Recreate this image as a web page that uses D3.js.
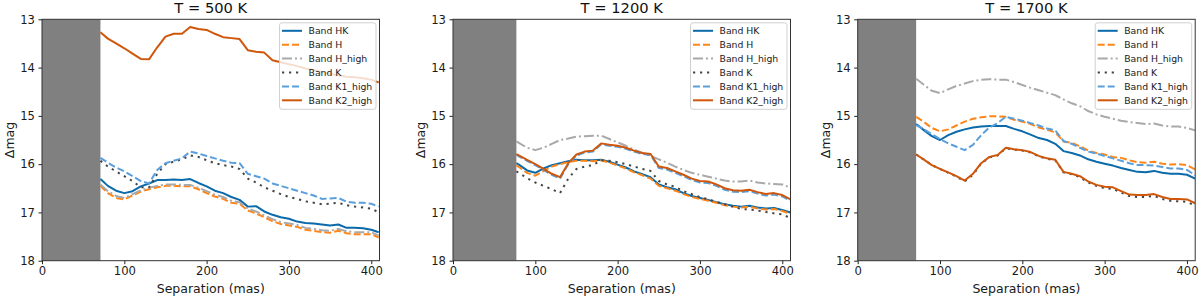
<!DOCTYPE html>
<html>
<head>
<meta charset="utf-8">
<script src="https://cdn.jsdelivr.net/npm/d3@7"></script>
<style>
  body { margin: 0; background: #fff; }
  svg text { font-family: "DejaVu Sans", sans-serif; }
</style>
</head>
<body>
<div id="chart"></div>
<script>
var titles = ["T = 500 K", "T = 1200 K", "T = 1700 K"]
var maskEdge = [71, 77, 71]
var xTicks = [0, 100, 200, 300, 400]
var yTicks = [13, 14, 15, 16, 17, 18]
var bandNames = ["Band HK", "Band H", "Band H_high", "Band K", "Band K1_high", "Band K2_high"]

var sep500 = [71, 80, 90, 100, 110, 120, 130, 140, 150, 160, 170, 180, 190, 200, 210, 220, 230, 240, 250, 260, 270, 280, 290, 300, 310, 320, 330, 340, 350, 360, 370, 380, 390, 400, 409]
var hk500 = [16.31, 16.45, 16.55, 16.6, 16.56, 16.46, 16.4, 16.33, 16.33, 16.32, 16.33, 16.31, 16.39, 16.46, 16.55, 16.6, 16.68, 16.74, 16.88, 16.87, 16.98, 17.05, 17.1, 17.13, 17.19, 17.22, 17.23, 17.25, 17.27, 17.25, 17.32, 17.32, 17.33, 17.36, 17.41]
var h500 = [16.45, 16.6, 16.7, 16.73, 16.65, 16.57, 16.52, 16.48, 16.45, 16.45, 16.46, 16.46, 16.52, 16.6, 16.67, 16.72, 16.8, 16.82, 16.96, 17.02, 17.1, 17.18, 17.24, 17.27, 17.3, 17.36, 17.38, 17.41, 17.42, 17.38, 17.43, 17.45, 17.45, 17.45, 17.52]
var hHigh500 = [16.42, 16.56, 16.66, 16.7, 16.62, 16.54, 16.49, 16.45, 16.42, 16.42, 16.43, 16.43, 16.49, 16.56, 16.63, 16.68, 16.76, 16.79, 16.92, 16.98, 17.06, 17.14, 17.2, 17.23, 17.26, 17.32, 17.34, 17.37, 17.38, 17.34, 17.39, 17.41, 17.41, 17.41, 17.48]
var k500 = [15.93, 16.05, 16.15, 16.25, 16.35, 16.48, 16.48, 16.2, 16.0, 15.95, 15.9, 15.82, 15.85, 15.92, 15.98, 16.02, 16.05, 16.1, 16.3, 16.38, 16.48, 16.55, 16.62, 16.68, 16.72, 16.77, 16.8, 16.83, 16.82, 16.8, 16.85, 16.88, 16.9, 16.92, 17.0]
var k1High500 = [15.87, 15.97, 16.07, 16.15, 16.25, 16.35, 16.4, 16.12, 15.98, 15.93, 15.88, 15.74, 15.78, 15.83, 15.88, 15.93, 15.97, 15.98, 16.2, 16.25, 16.3, 16.4, 16.45, 16.5, 16.55, 16.6, 16.65, 16.72, 16.71, 16.7, 16.78, 16.8, 16.8, 16.82, 16.88]
var k2High500 = [13.27, 13.4, 13.5, 13.6, 13.71, 13.82, 13.83, 13.58, 13.36, 13.3, 13.3, 13.16, 13.2, 13.22, 13.3, 13.37, 13.39, 13.41, 13.64, 13.67, 13.69, 13.85, 13.89, 13.93, 13.97, 14.02, 14.05, 14.09, 14.13, 14.16, 14.19, 14.2, 14.22, 14.25, 14.31]

var sep1200 = [77, 80, 90, 100, 110, 120, 130, 140, 150, 160, 170, 180, 190, 200, 210, 220, 230, 240, 250, 260, 270, 280, 290, 300, 310, 320, 330, 340, 350, 360, 370, 380, 390, 400, 410]
var hk1200 = [15.98, 16.01, 16.13, 16.18, 16.09, 16.02, 15.98, 15.94, 15.91, 15.92, 15.92, 15.91, 15.95, 16.01, 16.07, 16.15, 16.21, 16.27, 16.42, 16.48, 16.52, 16.6, 16.66, 16.7, 16.74, 16.79, 16.83, 16.86, 16.88, 16.86, 16.9, 16.92, 16.91, 16.95, 17.0]
var h1200 = [16.02, 16.06, 16.18, 16.24, 16.14, 16.05, 16.0, 15.96, 15.93, 15.93, 15.94, 15.92, 15.97, 16.03, 16.09, 16.17, 16.23, 16.3, 16.45, 16.5, 16.55, 16.62, 16.68, 16.72, 16.76, 16.8, 16.85, 16.88, 16.9, 16.88, 16.92, 16.94, 16.93, 16.97, 17.03]
var hHigh1200 = [15.53, 15.56, 15.66, 15.71, 15.66, 15.58, 15.5, 15.47, 15.43, 15.42, 15.41, 15.41, 15.48, 15.55, 15.62, 15.7, 15.77, 15.83, 15.9, 15.97, 16.05, 16.12, 16.18, 16.22, 16.26, 16.3, 16.34, 16.36, 16.36, 16.34, 16.38, 16.4, 16.41, 16.42, 16.49]
var k1200 = [16.15, 16.18, 16.29, 16.38, 16.45, 16.52, 16.6, 16.3, 16.1, 16.05, 16.02, 15.92, 15.93, 15.96, 16.0, 16.05, 16.1, 16.14, 16.35, 16.42, 16.47, 16.56, 16.62, 16.68, 16.73, 16.78, 16.83, 16.88, 16.93, 16.94, 16.96, 16.99, 17.02, 17.04, 17.12]
var k1High1200 = [15.8, 15.84, 15.93, 16.02, 16.12, 16.22, 16.3, 16.0, 15.82, 15.76, 15.74, 15.59, 15.62, 15.64, 15.68, 15.74, 15.79, 15.81, 16.08, 16.11, 16.18, 16.25, 16.33, 16.38, 16.39, 16.45, 16.53, 16.57, 16.58, 16.56, 16.61, 16.65, 16.63, 16.67, 16.76]
var k2High1200 = [15.79, 15.82, 15.91, 16.0, 16.1, 16.2, 16.27, 15.98, 15.8, 15.74, 15.72, 15.57, 15.6, 15.62, 15.66, 15.72, 15.77, 15.79, 16.05, 16.08, 16.15, 16.22, 16.3, 16.35, 16.36, 16.42, 16.5, 16.54, 16.55, 16.53, 16.58, 16.62, 16.6, 16.64, 16.73]

var sep1700 = [71, 80, 90, 100, 110, 120, 130, 140, 150, 160, 170, 180, 190, 200, 210, 220, 230, 240, 250, 260, 270, 280, 290, 300, 310, 320, 330, 340, 350, 360, 370, 380, 390, 400, 410]
var hk1700 = [15.17, 15.29, 15.42, 15.5, 15.4, 15.33, 15.28, 15.24, 15.22, 15.21, 15.21, 15.21, 15.27, 15.32, 15.39, 15.46, 15.5, 15.58, 15.73, 15.77, 15.82, 15.9, 15.95, 15.99, 16.03, 16.08, 16.12, 16.16, 16.17, 16.14, 16.18, 16.2, 16.2, 16.22, 16.3]
var h1700 = [15.02, 15.12, 15.25, 15.32, 15.28, 15.2, 15.12, 15.06, 15.03, 15.01, 15.01, 15.02, 15.08, 15.12, 15.17, 15.24, 15.29, 15.34, 15.53, 15.56, 15.63, 15.72, 15.77, 15.8, 15.85, 15.87, 15.92, 15.96, 15.97, 15.95, 15.99, 16.01, 16.0, 16.02, 16.11]
var hHigh1700 = [14.23, 14.35, 14.48, 14.53, 14.45, 14.38, 14.33, 14.28, 14.25, 14.24, 14.25, 14.25, 14.3, 14.36, 14.42, 14.47, 14.52, 14.57, 14.66, 14.74, 14.8, 14.9, 14.97, 15.02, 15.06, 15.1, 15.13, 15.15, 15.17, 15.16, 15.2, 15.22, 15.22, 15.25, 15.3]
var k1700 = [15.8, 15.9, 16.02, 16.1, 16.18, 16.26, 16.36, 16.22, 15.99, 15.86, 15.82, 15.67, 15.7, 15.72, 15.76, 15.84, 15.89, 15.92, 16.17, 16.21, 16.27, 16.38, 16.45, 16.5, 16.51, 16.59, 16.66, 16.68, 16.68, 16.66, 16.72, 16.76, 16.77, 16.78, 16.86]
var k1High1700 = [15.19, 15.27, 15.38, 15.48, 15.57, 15.64, 15.71, 15.6, 15.4, 15.24, 15.15, 15.02, 15.06, 15.1, 15.15, 15.2, 15.26, 15.3, 15.52, 15.58, 15.66, 15.74, 15.78, 15.83, 15.88, 15.93, 15.98, 16.02, 16.02, 16.03, 16.06, 16.09, 16.09, 16.12, 16.23]
var k2High1700 = [15.8, 15.9, 16.02, 16.1, 16.17, 16.25, 16.34, 16.2, 15.98, 15.85, 15.81, 15.66, 15.69, 15.71, 15.75, 15.83, 15.88, 15.91, 16.16, 16.2, 16.25, 16.36, 16.43, 16.47, 16.48, 16.56, 16.63, 16.64, 16.64, 16.62, 16.68, 16.72, 16.72, 16.73, 16.81]

var panels = [
    { sep: sep500, bands: [hk500, h500, hHigh500, k500, k1High500, k2High500] },
    { sep: sep1200, bands: [hk1200, h1200, hHigh1200, k1200, k1High1200, k2High1200] },
    { sep: sep1700, bands: [hk1700, h1700, hHigh1700, k1700, k1High1700, k2High1700] }
]

var styles = [
    { color: "#0b6aa9", dash: null },
    { color: "#ff8517", dash: "7,3" },
    { color: "#a9a9a9", dash: "10,3,2,3" },
    { color: "#444444", dash: "2.2,4.8" },
    { color: "#5a9fdc", dash: "7,3" },
    { color: "#cf570b", dash: null }
]

var lefts = [42, 453, 857.7]
var plotTop = 19.3
var pw = 337.5
var ph = 241.4

var svg = d3.select("#chart")
    .append("svg")
        .attr("width", 1200)
        .attr("height", 298)

panels.forEach(function(p, i) {
    var g = svg.append("g")
        .attr("transform", "translate(" + lefts[i] + "," + plotTop + ")")

    var x = d3.scaleLinear().domain([0, 410]).range([0, pw])
    var y = d3.scaleLinear().domain([13, 18]).range([0, ph])

    g.append("defs").append("clipPath")
        .attr("id", "clip" + i)
        .append("rect")
            .attr("width", pw)
            .attr("height", ph)

    g.append("rect")
        .attr("x", x(0))
        .attr("y", 0)
        .attr("width", x(maskEdge[i]) - x(0))
        .attr("height", ph)
        .attr("fill", "#808080")

    var line = d3.line()
        .x(function(d) { return x(d[0]) })
        .y(function(d) { return y(d[1]) })

    var lines = g.append("g").attr("clip-path", "url(#clip" + i + ")")
    p.bands.forEach(function(vals, j) {
        var pts = p.sep.map(function(s, k) { return [s, vals[k]] })
        lines.append("path")
            .datum(pts)
            .attr("d", line)
            .attr("fill", "none")
            .attr("stroke", styles[j].color)
            .attr("stroke-width", 2)
            .attr("stroke-linejoin", "round")
            .attr("stroke-dasharray", styles[j].dash)
    })

    var xAxis = g.append("g")
        .attr("transform", "translate(0," + ph + ")")
        .call(d3.axisBottom(x).tickValues(xTicks).tickSize(3.5).tickPadding(3))
    var yAxis = g.append("g")
        .call(d3.axisLeft(y).tickValues(yTicks).tickFormat(d3.format("d")).tickSize(3.5).tickPadding(3.5))
    ;[xAxis, yAxis].forEach(function(a) {
        a.select(".domain").remove()
        a.selectAll("line").attr("stroke", "#222")
        a.selectAll("text")
            .attr("fill", "#1a1a1a")
            .style("font-size", "11.6px")
            .style("font-family", "DejaVu Sans")
    })

    g.append("rect")
        .attr("width", pw)
        .attr("height", ph)
        .attr("fill", "none")
        .attr("stroke", "#333")
        .attr("stroke-width", 1)

    g.append("text")
        .attr("x", pw / 2)
        .attr("y", -6)
        .attr("text-anchor", "middle")
        .style("font-size", "14.7px")
        .attr("fill", "#111")
        .text(titles[i])

    g.append("text")
        .attr("x", pw / 2)
        .attr("y", ph + 32)
        .attr("text-anchor", "middle")
        .style("font-size", "12.5px")
        .attr("fill", "#1a1a1a")
        .text("Separation (mas)")

    g.append("text")
        .attr("transform", "translate(" + (-28) + "," + (ph / 2) + ") rotate(-90)")
        .attr("text-anchor", "middle")
        .style("font-size", "12.5px")
        .attr("fill", "#1a1a1a")
        .text("Δmag")

    // legend
    var lw = 96.5, lh = 86.5
    var lg = g.append("g")
        .attr("transform", "translate(" + (pw - lw - 3.5) + "," + 3.5 + ")")
    lg.append("rect")
        .attr("width", lw)
        .attr("height", lh)
        .attr("rx", 2.5)
        .attr("fill", "#fff")
        .attr("fill-opacity", 0.8)
        .attr("stroke", "#d0d0d0")
    lg.selectAll("line.handle")
        .data(bandNames)
        .join("line")
            .attr("class", "handle")
            .attr("x1", 2.5)
            .attr("x2", 22.5)
            .attr("y1", function(d, j) { return 8 + j * 13.9 })
            .attr("y2", function(d, j) { return 8 + j * 13.9 })
            .attr("stroke", function(d, j) { return styles[j].color })
            .attr("stroke-width", 2)
            .attr("stroke-dasharray", function(d, j) { return styles[j].dash })
    lg.selectAll("text.lab")
        .data(bandNames)
        .join("text")
            .attr("class", "lab")
            .attr("x", 29)
            .attr("y", function(d, j) { return 8 + j * 13.9 + 3.4 })
            .style("font-size", "9.3px")
            .attr("fill", "#1a1a1a")
            .text(function(d) { return d })
})
</script>
</body>
</html>
